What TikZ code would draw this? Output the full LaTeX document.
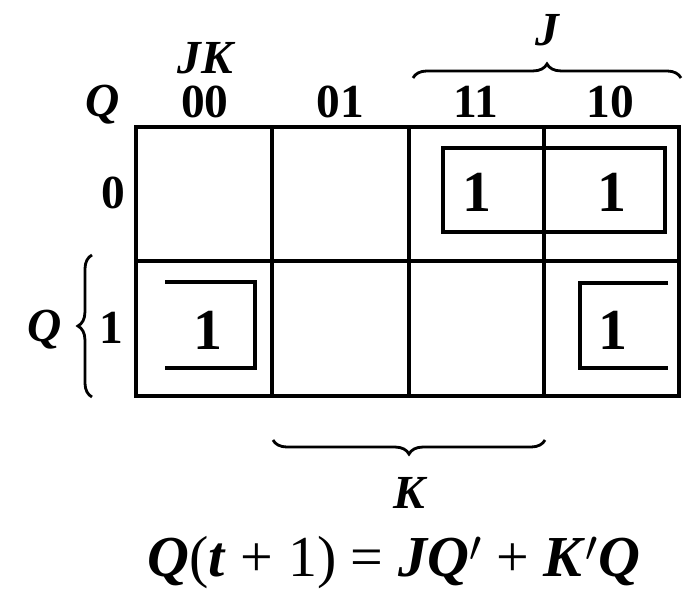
\documentclass[tikz,border=0pt]{standalone}
\usepackage{fontspec}
\setmainfont{Liberation Serif}
\usepackage{tikz}
\usetikzlibrary{
    positioning,
    calc,
    decorations.pathreplacing,
}
\tikzset{
    % Map styles
    map line/.style={line width=2.4pt},
    group line/.style={line width=2pt},
    % Text styles
    cell one/.style={font=\fontsize{33}{35}\selectfont\bfseries},
    head digit/.style={font=\fontsize{27}{29}\selectfont\bfseries},
    var name/.style={font=\fontsize{27}{29}\selectfont\bfseries\itshape},
    % Brace style
    var brace/.style={decorate, decoration={brace, amplitude=8pt}, line width=1.6pt},
}

\begin{document}
\begin{tikzpicture}[x=0.02cm, y=-0.02cm]
    \useasboundingbox (0,0) rectangle (684,591);

    % Map grid
    \coordinate (nw) at (136,127);
    \coordinate (se) at (679,396);
    \draw[map line] (nw) rectangle (se);
    \draw[map line] (136,261) -- (679,261);
    \foreach \x in {272,409,544}
        \draw[map line] (\x,127) -- (\x,396);

    % Column and row labels
    \node[var name] (jk) at (205,58) {JK};
    \node[var name] (q) at (103,105) {Q};
    \node[head digit] (c00) at (205,102) {00};
    \node[head digit] (c01) at (340,102) {01};
    \node[head digit] (c11) at (476,102) {11};
    \node[head digit] (c10) at (610,102) {10};
    \node[head digit] (r0) at (113,193) {0};
    \node[head digit] (r1) at (111,328) {1};

    % Minterms
    \node[cell one] (m02) at (477,192) {1};
    \node[cell one] (m03) at (612,192) {1};
    \node[cell one] (m10) at (208,330) {1};
    \node[cell one] (m13) at (613,330) {1};

    % Groups
    \draw[group line] (443,148) rectangle (665,232);
    \draw[group line] (165,282) -- (255,282) -- (255,368) -- (165,368);
    \draw[group line] (668,283) -- (580,283) -- (580,368) -- (668,368);

    % Variable braces
    \draw[var brace] (413,78) -- (681,78);
    \node[var name] (j) at (547,30) {J};
    \draw[var brace] (92,397) -- (92,255);
    \node[var name] (qside) at (45,330) {Q};
    \draw[var brace] (545,440) -- (273,440);
    \node[var name] (k) at (409,493) {K};

    % Equation
    \node[font=\fontsize{33}{35}\selectfont] (eqn) at (394,563)
        {\textbf{\textit{Q}}(\textbf{\textit{t}} + 1) = \textbf{\textit{JQ}}$'$ + \textbf{\textit{K}}$'$\textbf{\textit{Q}}};
\end{tikzpicture}
\end{document}
